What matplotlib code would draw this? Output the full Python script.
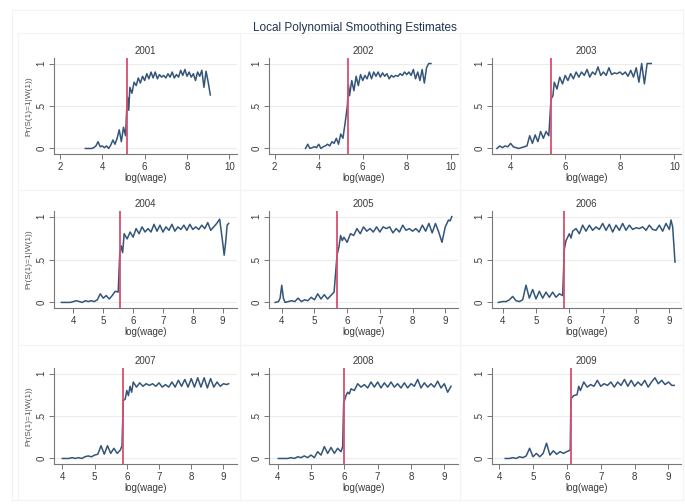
import matplotlib
matplotlib.use("Agg")
import matplotlib.pyplot as plt
from matplotlib.patches import Rectangle

plt.rcParams["font.family"] = ["Liberation Sans", "DejaVu Sans"]

# --- Data ---
years = ["2001", "2002", "2003", "2004", "2005", "2006", "2007", "2008", "2009"]
cutoffs = [5.17, 5.33, 5.48, 5.55, 5.69, 5.85, 5.89, 5.98, 6.12]

x2001 = [3.2, 3.3, 3.4, 3.5, 3.6, 3.7, 3.8, 3.9, 4.0, 4.1,
         4.2, 4.3, 4.4, 4.5, 4.6, 4.7, 4.8, 4.9, 5.0, 5.1,
         5.15, 5.2, 5.25,
         5.3, 5.4, 5.5, 5.6, 5.7, 5.8, 5.9, 6.0, 6.1, 6.2,
         6.3, 6.4, 6.5, 6.6, 6.7, 6.8, 6.9, 7.0, 7.1, 7.2,
         7.3, 7.4, 7.5, 7.6, 7.7, 7.8, 7.9, 8.0, 8.1, 8.2,
         8.3, 8.4, 8.5, 8.6, 8.7, 8.8, 8.9, 9.0, 9.1]
y2001 = [0, 0, 0, 0, 0.01, 0.03, 0.08, 0.02, 0.03, 0.01,
         0.03, 0.0, 0.04, 0.1, 0.05, 0.12, 0.22, 0.08, 0.25, 0.15,
         0.45, 0.6, 0.45,
         0.72, 0.65, 0.78, 0.74, 0.83, 0.77, 0.85, 0.8, 0.88, 0.82,
         0.9, 0.83, 0.9, 0.82, 0.87, 0.84, 0.86, 0.83, 0.88, 0.84,
         0.9, 0.83, 0.87, 0.84, 0.92, 0.86, 0.93, 0.85, 0.9, 0.84,
         0.88, 0.8, 0.9, 0.85, 0.92, 0.72, 0.91, 0.78, 0.63]

x2002 = [3.4, 3.5, 3.6, 3.7, 3.8, 3.9, 4.0, 4.1, 4.2, 4.3,
         4.4, 4.5, 4.6, 4.7, 4.8, 4.9, 5.0, 5.1, 5.2, 5.3,
         5.35, 5.4, 5.5, 5.6, 5.7, 5.8, 5.9, 6.0, 6.1, 6.2,
         6.3, 6.4, 6.5, 6.6, 6.7, 6.8, 6.9, 7.0, 7.1, 7.2,
         7.3, 7.4, 7.5, 7.6, 7.7, 7.8, 7.9, 8.0, 8.1, 8.2,
         8.3, 8.4, 8.5, 8.6, 8.7, 8.8, 8.9, 9.0, 9.1]
y2002 = [0, 0.05, 0, 0.01, 0.02, 0.01, 0.05, 0.0, 0.02, 0.03,
         0.05, 0.03, 0.08, 0.06, 0.12, 0.05, 0.17, 0.12, 0.3, 0.5,
         0.75, 0.62, 0.8, 0.68, 0.85, 0.74, 0.87, 0.8, 0.86, 0.82,
         0.9, 0.82, 0.9, 0.85, 0.9, 0.84, 0.89, 0.85, 0.88, 0.82,
         0.86, 0.84, 0.86, 0.85, 0.88, 0.86, 0.9, 0.87, 0.9, 0.86,
         0.93, 0.82, 0.9, 0.8, 0.93, 0.77, 0.95, 1.0, 1.0]

x2003 = [3.5, 3.6, 3.7, 3.8, 3.9, 4.0, 4.1, 4.2, 4.3, 4.4,
         4.5, 4.6, 4.7, 4.8, 4.9, 5.0, 5.1, 5.2, 5.3, 5.4,
         5.48, 5.55, 5.6, 5.7, 5.8, 5.9, 6.0, 6.1, 6.2, 6.3,
         6.4, 6.5, 6.6, 6.7, 6.8, 6.9, 7.0, 7.1, 7.2, 7.3,
         7.4, 7.5, 7.6, 7.7, 7.8, 7.9, 8.0, 8.1, 8.2, 8.3,
         8.4, 8.5, 8.6, 8.7, 8.8, 8.9, 9.0, 9.15]
y2003 = [0.0, 0.03, 0.01, 0.03, 0.02, 0.06, 0.02, 0.01, 0.0, 0.01,
         0.02, 0.03, 0.15, 0.06, 0.16, 0.08, 0.2, 0.12, 0.2, 0.15,
         0.58, 0.62, 0.78, 0.7, 0.84, 0.76, 0.86, 0.8, 0.88, 0.82,
         0.9, 0.84, 0.9, 0.86, 0.93, 0.84, 0.9, 0.87, 0.96, 0.86,
         0.9, 0.86, 0.95, 0.87, 0.89, 0.88, 0.9, 0.87, 0.9, 0.85,
         0.92, 0.84, 0.95, 0.78, 1.0, 0.76, 1.0, 1.0]

x2004 = [3.6, 3.7, 3.8, 3.9, 4.0, 4.1, 4.2, 4.3, 4.4, 4.5,
         4.6, 4.7, 4.8, 4.9, 5.0, 5.1, 5.2, 5.3, 5.4, 5.5,
         5.55, 5.6, 5.65, 5.7, 5.8, 5.9, 6.0, 6.1, 6.2, 6.3,
         6.4, 6.5, 6.6, 6.7, 6.8, 6.9, 7.0, 7.1, 7.2, 7.3,
         7.4, 7.5, 7.6, 7.7, 7.8, 7.9, 8.0, 8.1, 8.2, 8.3,
         8.4, 8.5, 8.6, 8.7, 8.8, 8.9, 9.0, 9.05, 9.1, 9.15, 9.2]
y2004 = [0, 0, 0, 0, 0.01, 0.02, 0.01, 0.0, 0.02, 0.01,
         0.02, 0.01, 0.03, 0.1, 0.05, 0.08, 0.04, 0.08, 0.13, 0.12,
         0.55, 0.66, 0.58, 0.8, 0.74, 0.82, 0.76, 0.86, 0.8, 0.88,
         0.82, 0.86, 0.82, 0.91, 0.83, 0.9, 0.82, 0.88, 0.84, 0.91,
         0.83, 0.88, 0.85, 0.9, 0.84, 0.91, 0.85, 0.88, 0.85, 0.9,
         0.86, 0.93, 0.84, 0.88, 0.92, 0.97, 0.7, 0.55, 0.7, 0.9, 0.92]

x2005 = [3.8, 3.9, 3.95, 4.0, 4.05, 4.1, 4.2, 4.3, 4.4, 4.5,
         4.6, 4.7, 4.8, 4.9, 5.0, 5.1, 5.2, 5.3, 5.4, 5.5,
         5.6, 5.69, 5.75, 5.8, 5.85, 5.9, 6.0, 6.1, 6.2, 6.3,
         6.4, 6.5, 6.6, 6.7, 6.8, 6.9, 7.0, 7.1, 7.2, 7.3,
         7.4, 7.5, 7.6, 7.7, 7.8, 7.9, 8.0, 8.1, 8.2, 8.3,
         8.4, 8.5, 8.6, 8.7, 8.8, 8.9, 9.0, 9.1, 9.15, 9.2]
y2005 = [0, 0.01, 0.05, 0.2, 0.05, 0.0, 0.01, 0.02, 0.01, 0.05,
         0.01, 0.03, 0.02, 0.06, 0.03, 0.1, 0.04, 0.09, 0.04, 0.08,
         0.12, 0.55, 0.65, 0.78, 0.72, 0.76, 0.7, 0.8, 0.78, 0.86,
         0.8, 0.88, 0.83, 0.86, 0.82, 0.88, 0.82, 0.88, 0.86, 0.88,
         0.81, 0.86, 0.82, 0.9, 0.84, 0.86, 0.83, 0.86, 0.82, 0.9,
         0.83, 0.92, 0.81, 0.92, 0.82, 0.7, 0.88, 0.96, 0.95, 1.0]

x2006 = [3.87, 4.0, 4.1, 4.2, 4.3, 4.4, 4.5, 4.6, 4.7, 4.8,
         4.9, 5.0, 5.1, 5.2, 5.3, 5.4, 5.5, 5.6, 5.7, 5.8,
         5.85, 5.9, 6.0, 6.05, 6.1, 6.2, 6.3, 6.4, 6.5, 6.6,
         6.7, 6.8, 6.9, 7.0, 7.1, 7.2, 7.3, 7.4, 7.5, 7.6,
         7.7, 7.8, 7.9, 8.0, 8.1, 8.2, 8.3, 8.4, 8.5, 8.6,
         8.7, 8.8, 8.9, 9.0, 9.05, 9.1, 9.17]
y2006 = [0, 0.01, 0.01, 0.03, 0.07, 0.02, 0.01, 0.03, 0.2, 0.05,
         0.15, 0.04, 0.13, 0.05, 0.12, 0.06, 0.12, 0.06, 0.1, 0.08,
         0.62, 0.72, 0.8, 0.75, 0.83, 0.86, 0.8, 0.9, 0.83, 0.9,
         0.84, 0.88, 0.85, 0.92, 0.84, 0.91, 0.82, 0.9, 0.84, 0.92,
         0.84, 0.9, 0.85, 0.87, 0.86, 0.88, 0.84, 0.9, 0.85, 0.84,
         0.9, 0.83, 0.92, 0.85, 0.96, 0.88, 0.47]

x2007 = [4.0, 4.1, 4.2, 4.3, 4.4, 4.5, 4.6, 4.7, 4.8, 4.9,
         5.0, 5.1, 5.2, 5.3, 5.4, 5.5, 5.6, 5.7, 5.8, 5.85,
         5.89, 5.95, 6.0, 6.05, 6.1, 6.15, 6.2, 6.3, 6.4, 6.5,
         6.6, 6.7, 6.8, 6.9, 7.0, 7.1, 7.2, 7.3, 7.4, 7.5,
         7.6, 7.7, 7.8, 7.9, 8.0, 8.1, 8.2, 8.3, 8.4, 8.5,
         8.6, 8.7, 8.8, 8.9, 9.0, 9.1, 9.16]
y2007 = [0, 0, 0, 0.01, 0.0, 0.01, 0.0, 0.02, 0.03, 0.02,
         0.04, 0.05, 0.15, 0.05, 0.15, 0.06, 0.12, 0.06, 0.1, 0.15,
         0.68, 0.7, 0.8, 0.74, 0.85, 0.78, 0.9, 0.84, 0.89, 0.85,
         0.88, 0.86, 0.88, 0.85, 0.89, 0.84, 0.87, 0.84, 0.9, 0.84,
         0.92, 0.85, 0.93, 0.84, 0.94, 0.84, 0.95, 0.84, 0.95, 0.83,
         0.94, 0.84, 0.9, 0.85, 0.88, 0.87, 0.88]

x2008 = [4.02, 4.1, 4.2, 4.3, 4.4, 4.5, 4.6, 4.7, 4.8, 4.9,
         5.0, 5.1, 5.2, 5.3, 5.4, 5.5, 5.6, 5.7, 5.8, 5.9,
         5.95, 5.98, 6.05, 6.1, 6.15, 6.2, 6.3, 6.4, 6.5, 6.6,
         6.7, 6.8, 6.9, 7.0, 7.1, 7.2, 7.3, 7.4, 7.5, 7.6,
         7.7, 7.8, 7.9, 8.0, 8.1, 8.2, 8.3, 8.4, 8.5, 8.6,
         8.7, 8.8, 8.9, 9.0, 9.1, 9.2]
y2008 = [0, 0, 0, 0, 0.01, 0.0, 0.02, 0.01, 0.03, 0.01,
         0.04, 0.01, 0.08, 0.04, 0.14, 0.06, 0.13, 0.06, 0.12, 0.08,
         0.14, 0.65, 0.74, 0.78, 0.76, 0.82, 0.8, 0.88, 0.84, 0.87,
         0.83, 0.9, 0.84, 0.9, 0.83, 0.89, 0.84, 0.9, 0.84, 0.88,
         0.83, 0.89, 0.83, 0.88, 0.85, 0.93, 0.83, 0.89, 0.84, 0.88,
         0.84, 0.91, 0.83, 0.88, 0.78, 0.85]

x2009 = [4.18, 4.3, 4.4, 4.5, 4.6, 4.7, 4.8, 4.9, 5.0, 5.1,
         5.2, 5.3, 5.4, 5.5, 5.6, 5.7, 5.8, 5.9, 6.0, 6.1,
         6.12, 6.2, 6.3, 6.35, 6.4, 6.5, 6.6, 6.7, 6.8, 6.9,
         7.0, 7.1, 7.2, 7.3, 7.4, 7.5, 7.6, 7.7, 7.8, 7.9,
         8.0, 8.1, 8.2, 8.3, 8.4, 8.5, 8.6, 8.7, 8.8, 8.9,
         9.0, 9.1, 9.17]
y2009 = [0, 0.0, 0.01, 0.0, 0.02, 0.01, 0.03, 0.12, 0.02, 0.06,
         0.02, 0.06, 0.18, 0.04, 0.09, 0.05, 0.08, 0.06, 0.08, 0.1,
         0.7, 0.74, 0.75, 0.85, 0.8, 0.9, 0.84, 0.87, 0.85, 0.92,
         0.85, 0.88, 0.86, 0.9, 0.84, 0.9, 0.86, 0.93, 0.85, 0.92,
         0.85, 0.9, 0.86, 0.92, 0.84, 0.9, 0.95, 0.88, 0.92, 0.87,
         0.9, 0.86, 0.86]

xs = [x2001, x2002, x2003, x2004, x2005, x2006, x2007, x2008, x2009]
ys = [y2001, y2002, y2003, y2004, y2005, y2006, y2007, y2008, y2009]

xticks_list = [[2, 4, 6, 8, 10], [2, 4, 6, 8, 10], [4, 6, 8, 10]] + [[4, 5, 6, 7, 8, 9]] * 6

# --- Layout (pixels of a 685x504 canvas) ---
W, H = 685, 504
col_left = [54, 269, 492]
col_right = [237, 458, 681]
row_top = [58, 211, 368]
row_bottom = [154, 308, 464]
xlims = [(1.72, 10.36), (1.74, 10.33), (3.32, 10.24),
         (3.35, 9.48), (3.61, 9.39), (3.68, 9.35),
         (3.74, 9.42), (3.74, 9.41), (3.79, 9.37)]

line_col = "#34557a"
cut_col = "#d5506e"
txt_col = "#3a3a3a"

fig = plt.figure(figsize=(W / 100, H / 100), dpi=100)
fig.patch.set_facecolor("white")

# faint frames like the Stata combined graph
fig.patches.append(Rectangle((12 / W, 1 - 500 / H), 671 / W, 490 / H,
                             transform=fig.transFigure, fill=False,
                             edgecolor="#f2f2f2", lw=0.8))
box_x = [18, 240, 460, 683]
box_y = [33, 190, 345, 500]
for r in range(3):
    for c in range(3):
        fig.patches.append(Rectangle((box_x[c] / W, 1 - box_y[r + 1] / H),
                                     (box_x[c + 1] - box_x[c]) / W,
                                     (box_y[r + 1] - box_y[r]) / H,
                                     transform=fig.transFigure, fill=False,
                                     edgecolor="#f3f3f3", lw=0.8))

for i in range(9):
    r, c = divmod(i, 3)
    l, rt = col_left[c], col_right[c]
    t, b = row_top[r], row_bottom[r]
    ax = fig.add_axes([l / W, 1 - b / H, (rt - l) / W, (b - t) / H])

    ax.plot(xs[i], ys[i], color=line_col, lw=1.1, zorder=3)
    ax.axvline(cutoffs[i], color=cut_col, lw=1.3, zorder=4)

    ax.set_xlim(*xlims[i])
    ax.set_ylim(-0.065, 1.065)
    ax.set_xticks(xticks_list[i])
    ax.set_yticks([0, 0.5, 1])
    ax.set_yticklabels(["0", ".5", "1"], rotation=90, va="center")

    ax.yaxis.grid(True, color="#ececec", lw=0.8)
    ax.set_axisbelow(True)
    for s in ["top", "right"]:
        ax.spines[s].set_visible(False)
    for s in ["left", "bottom"]:
        ax.spines[s].set_color("#777777")
        ax.spines[s].set_linewidth(0.8)
    ax.tick_params(direction="out", length=3.5, width=0.7, color="#777777",
                   labelsize=7, labelcolor=txt_col, pad=2)

    ax.set_title(years[i], fontsize=7, color=txt_col, pad=3)
    ax.set_xlabel("log(wage)", fontsize=7, color=txt_col, labelpad=1)
    if c == 0:
        ax.set_ylabel("Pr(S(1)=1|W(1))", fontsize=6, color="#555555", labelpad=3)

fig.text(355 / W, 1 - 28 / H, "Local Polynomial Smoothing Estimates",
         ha="center", va="center", fontsize=8.5, color="#1f3550")

fig.savefig("out.png", dpi=100)
